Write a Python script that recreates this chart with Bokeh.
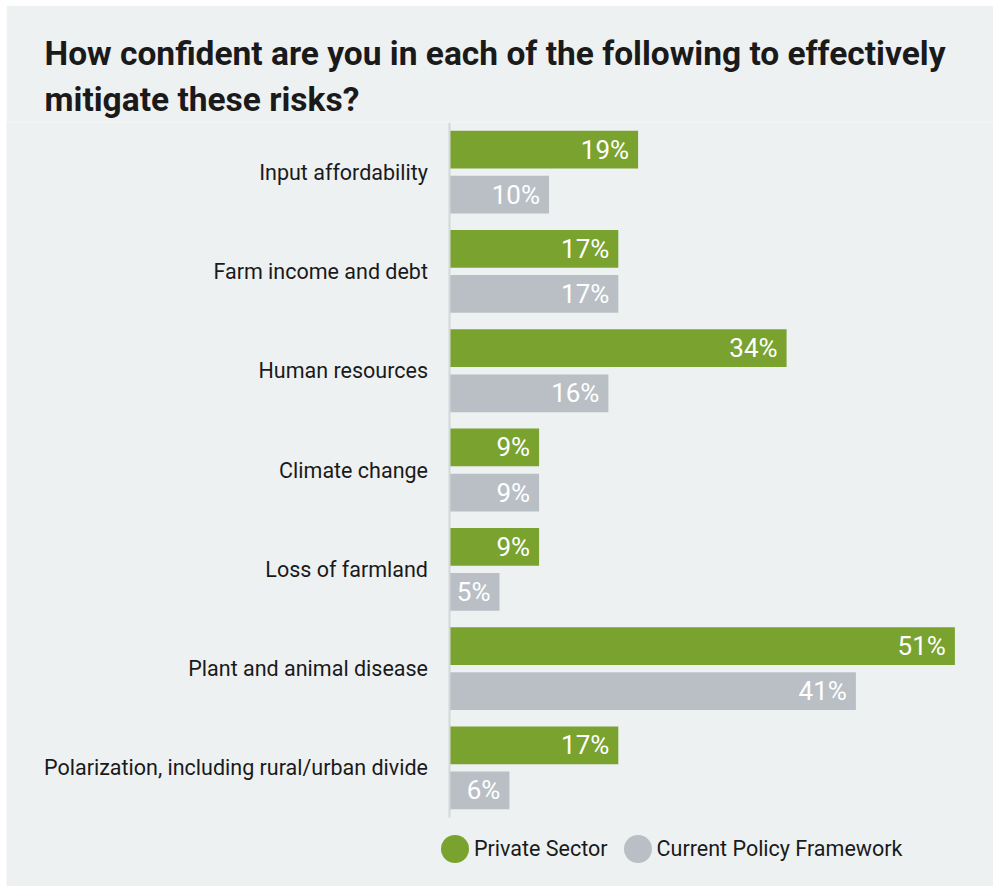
from bokeh.plotting import figure
from bokeh.models import ColumnDataSource, Range1d, Title, Legend, LegendItem, FixedTicker
from bokeh.core.properties import value
from bokeh.embed import file_html
from bokeh.resources import INLINE

# ---- data ----
categories = [
    "Input affordability",
    "Farm income and debt",
    "Human resources",
    "Climate change",
    "Loss of farmland",
    "Plant and animal disease",
    "Polarization, including rural/urban divide",
]
private_sector = [19, 17, 34, 9, 9, 51, 17]
policy_framework = [10, 17, 16, 9, 5, 41, 6]
series_names = ["Private Sector", "Current Policy Framework"]
title_lines = [
    "How confident are you in each of the following to effectively",
    "mitigate these risks?",
]

# ---- styles ----
BG = "#eef1f2"
GREEN = "#79a22f"
GRAY = "#b9bfc5"
TEXT = "#1a1a1a"
AXIS = "#d3d7da"

n = len(categories)
centers = [n - 0.5 - i for i in range(n)]   # first category at the top
OFF = 0.227
H = 0.38

src = ColumnDataSource(dict(
    cy=centers,
    y_ps=[c + OFF for c in centers],
    y_pf=[c - OFF for c in centers],
    ps=private_sector,
    pf=policy_framework,
    ps_lbl=[f"{v}%" for v in private_sector],
    pf_lbl=[f"{v}%" for v in policy_framework],
))

p = figure(
    x_range=Range1d(-44.798, 54.9),
    y_range=Range1d(n - 764 / 99.29, n),
    frame_width=987, frame_height=764,
    min_border_left=0, min_border_right=0,
    min_border_top=117, min_border_bottom=0,
    output_backend="svg", toolbar_location=None,
    background_fill_color=BG, border_fill_color=BG,
    outline_line_color=None,
    margin=(5, 4, 0, 6),
)

p.hbar(y="y_ps", left=0, right="ps", height=H,
       fill_color=GREEN, line_color=None, source=src)
p.hbar(y="y_pf", left=0, right="pf", height=H,
       fill_color=GRAY, line_color=None, source=src)

p.text(x="ps", y="y_ps", text="ps_lbl", x_offset=-9,
       text_align="right", text_baseline="middle", text_color="white",
       text_font=value("Roboto"), text_font_size="26px", source=src)
p.text(x="pf", y="y_pf", text="pf_lbl", x_offset=-9,
       text_align="right", text_baseline="middle", text_color="white",
       text_font=value("Roboto"), text_font_size="26px", source=src)

p.xaxis.visible = False
p.xgrid.grid_line_color = None
p.ygrid.grid_line_color = None
ax = p.yaxis[0]
ax.fixed_location = 0
ax.bounds = (0, n)
ax.ticker = FixedTicker(ticks=centers)
ax.major_label_overrides = {c: lab for c, lab in zip(centers, categories)}
ax.axis_line_color = AXIS
ax.axis_line_width = 2
ax.major_tick_line_color = None
ax.minor_tick_line_color = None
ax.major_tick_out = 0
ax.major_tick_in = 0
ax.major_label_standoff = 22
ax.major_label_text_font = "Roboto"
ax.major_label_text_font_size = "21.5px"
ax.major_label_text_color = TEXT

# title (second line first: later panels stack further from the frame)
for txt, so in [(title_lines[1], 8), (title_lines[0], 2)]:
    p.add_layout(Title(text=txt, align="left", offset=38, standoff=so,
                       text_font="Roboto", text_font_style="bold", text_font_size="33.5px",
                       text_color=TEXT), "above")

# legend (renderers carry a single undrawn NaN point so the legend has a glyph to show)
nan = float("nan")
r1 = p.ellipse(x="x", y="y", width=28, height=28, width_units="screen", height_units="screen",
               source=ColumnDataSource(dict(x=[nan], y=[nan])),
               fill_color=GREEN, line_color=None)
r2 = p.ellipse(x="x", y="y", width=28, height=28, width_units="screen", height_units="screen",
               source=ColumnDataSource(dict(x=[nan], y=[nan])),
               fill_color=GRAY, line_color=None)
legend = Legend(
    items=[LegendItem(label=series_names[0], renderers=[r1]),
           LegendItem(label=series_names[1], renderers=[r2])],
    orientation="horizontal", location=(431, 20),
    glyph_width=35, glyph_height=35, label_standoff=2, spacing=12,
    padding=0, margin=0, background_fill_alpha=0, border_line_color=None,
    label_text_font="Roboto", label_text_font_size="21.5px", label_text_color=TEXT,
)
p.add_layout(legend)

open("out.html", "w").write(file_html(p, INLINE))
